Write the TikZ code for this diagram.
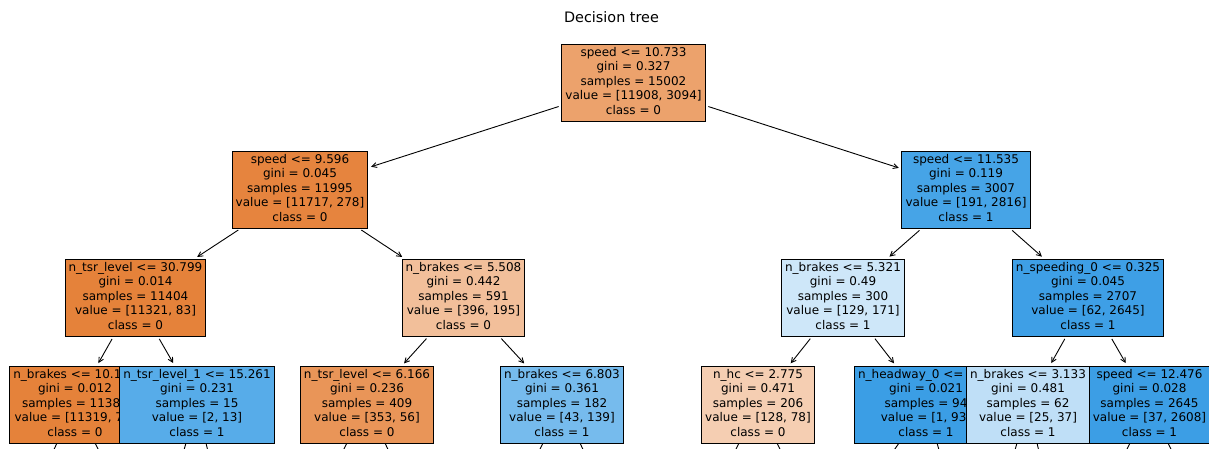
\documentclass[tikz,border=0pt]{standalone}
\usepackage{fontspec}
\setmainfont{DejaVu Sans}
\usetikzlibrary{arrows.meta}
\definecolor{corange}{RGB}{229,129,57}
\definecolor{cblue}{RGB}{57,157,229}
\begin{document}
\begin{tikzpicture}[x=1pt,y=-1pt,
  tnode/.style={draw=black, line width=1pt, rectangle, align=center,
    font=\fontsize{12}{14.4}\selectfont, inner xsep=3.6pt, inner ysep=2.5pt,
    minimum height=77pt},
  edge/.style={line width=0.9pt, -{Straight Barb[length=4.8pt,width=5pt]},
    shorten <=2.8pt, shorten >=2.8pt},
  stub/.style={line width=0.9pt}]
\useasboundingbox (0,0) rectangle (1209,448);
\clip (0,0) rectangle (1209,448);
\node[font=\fontsize{14.4}{17}\selectfont] (title) at (611.5,17) {Decision tree};
% level 1
\node[tnode, fill=corange!74] (n0) at (633.5,82.5) {\strut speed <= 10.733\\gini = 0.327\\samples = 15002\\value = [11908, 3094]\\class = 0\strut};
% left subtree
\node[tnode, fill=corange!97.6] (nL) at (300,189.5) {\strut speed <= 9.596\\gini = 0.045\\samples = 11995\\value = [11717, 278]\\class = 0\strut};
\node[tnode, fill=corange!99.3] (nLL) at (135.5,297.5) {\strut n\_tsr\_level <= 30.799\\gini = 0.014\\samples = 11404\\value = [11321, 83]\\class = 0\strut};
\node[tnode, fill=corange!99.4] (nLLL) at (75,404.5) {\strut n\_brakes <= 10.155\\gini = 0.012\\samples = 11389\\value = [11319, 70]\\class = 0\strut};
\node[tnode, fill=cblue!84.6] (nLLR) at (197,404.5) {\strut n\_tsr\_level\_1 <= 15.261\\gini = 0.231\\samples = 15\\value = [2, 13]\\class = 1\strut};
\node[tnode, fill=corange!50.8] (nLR) at (463.5,297.5) {\strut n\_brakes <= 5.508\\gini = 0.442\\samples = 591\\value = [396, 195]\\class = 0\strut};
\node[tnode, fill=corange!84.1] (nLRL) at (367,404.5) {\strut n\_tsr\_level <= 6.166\\gini = 0.236\\samples = 409\\value = [353, 56]\\class = 0\strut};
\node[tnode, fill=cblue!69.1] (nLRR) at (562,404.5) {\strut n\_brakes <= 6.803\\gini = 0.361\\samples = 182\\value = [43, 139]\\class = 1\strut};
% right subtree
\node[tnode, fill=cblue!93.2] (nR) at (966,189.5) {\strut speed <= 11.535\\gini = 0.119\\samples = 3007\\value = [191, 2816]\\class = 1\strut};
\node[tnode, fill=cblue!24.6] (nRL) at (843,297.5) {\strut n\_brakes <= 5.321\\gini = 0.49\\samples = 300\\value = [129, 171]\\class = 1\strut};
\node[tnode, fill=corange!39.1] (nRLL) at (758,404.5) {\strut n\_hc <= 2.775\\gini = 0.471\\samples = 206\\value = [128, 78]\\class = 0\strut};
\node[tnode, fill=cblue!98.9] (nRLR) at (926,404.5) {\strut n\_headway\_0 <= 0.25\\gini = 0.021\\samples = 94\\value = [1, 93]\\class = 1\strut};
\node[tnode, fill=cblue!97.7] (nRR) at (1088,297.5) {\strut n\_speeding\_0 <= 0.325\\gini = 0.045\\samples = 2707\\value = [62, 2645]\\class = 1\strut};
\node[tnode, fill=cblue!32.4] (nRRL) at (1028,404.5) {\strut n\_brakes <= 3.133\\gini = 0.481\\samples = 62\\value = [25, 37]\\class = 1\strut};
\node[tnode, fill=cblue!98.6] (nRRR) at (1149.5,404.5) {\strut speed <= 12.476\\gini = 0.028\\samples = 2645\\value = [37, 2608]\\class = 1\strut};
% off-picture children
\coordinate (cLLLa) at (25,511.5);
\coordinate (cLLLb) at (130.6,511.5);
\coordinate (cLLRa) at (166.4,511.5);
\coordinate (cLLRb) at (222,511.5);
\coordinate (cLRLa) at (311.4,511.5);
\coordinate (cLRLb) at (417,511.5);
\coordinate (cLRRa) at (509.2,511.5);
\coordinate (cLRRb) at (612,511.5);
\coordinate (cRLLa) at (705.2,511.5);
\coordinate (cRLLb) at (810.8,511.5);
\coordinate (cRLRa) at (851,511.5);
\coordinate (cRLRb) at (956.6,511.5);
\coordinate (cRRLa) at (997.4,511.5);
\coordinate (cRRLb) at (1053,511.5);
\coordinate (cRRRa) at (1095.5,511.5);
\coordinate (cRRRb) at (1200.9,511.5);
% edges
\draw[edge] (n0) -- (nL);
\draw[edge] (n0) -- (nR);
\draw[edge] (nL) -- (nLL);
\draw[edge] (nL) -- (nLR);
\draw[edge] (nR) -- (nRL);
\draw[edge] (nR) -- (nRR);
\draw[edge] (nLL) -- (nLLL);
\draw[edge] (nLL) -- (nLLR);
\draw[edge] (nLR) -- (nLRL);
\draw[edge] (nLR) -- (nLRR);
\draw[edge] (nRL) -- (nRLL);
\draw[edge] (nRL) -- (nRLR);
\draw[edge] (nRR) -- (nRRL);
\draw[edge] (nRR) -- (nRRR);
\foreach \n in {LLL,LLR,LRL,LRR,RLL,RLR,RRL,RRR}{
  \draw[stub] (n\n) -- (c\n a);
  \draw[stub] (n\n) -- (c\n b);
}
\end{tikzpicture}
\end{document}
